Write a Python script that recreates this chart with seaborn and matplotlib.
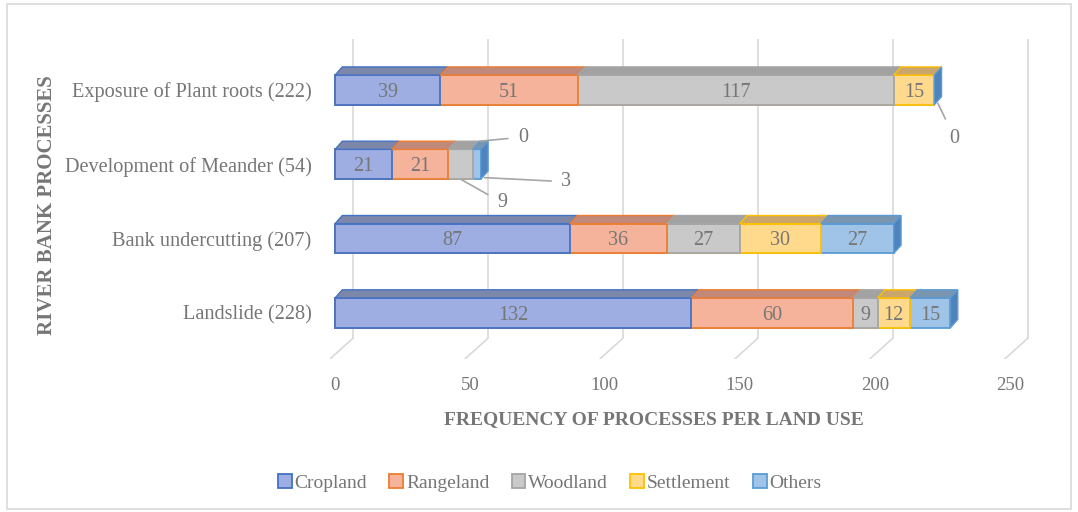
import numpy as np
import pandas as pd
import matplotlib.pyplot as plt
import matplotlib.patches as mpatches
from matplotlib.transforms import ScaledTranslation
import seaborn as sns

# data, top row first
processes = ['Exposure of Plant roots (222)', 'Development of Meander (54)',
             'Bank undercutting (207)', 'Landslide (228)']
land_uses = ['Cropland', 'Rangeland', 'Woodland', 'Settlement', 'Others']
cropland = [39, 21, 87, 132]
rangeland = [51, 21, 36, 60]
woodland = [117, 9, 27, 9]
settlement = [15, 0, 30, 12]
others = [0, 3, 27, 15]
x_ticks = [0, 50, 100, 150, 200, 250]

front = {'Cropland': '#9eaee2', 'Rangeland': '#f6b39c', 'Woodland': '#c9c9c9',
         'Settlement': '#ffd98c', 'Others': '#9fc4e8'}
edge = {'Cropland': '#4472c4', 'Rangeland': '#ed7d31', 'Woodland': '#a5a5a5',
        'Settlement': '#ffc000', 'Others': '#5b9bd5'}
top = {'Cropland': '#7c87aa', 'Rangeland': '#c0897a', 'Woodland': '#a2a2a2',
       'Settlement': '#caa66c', 'Others': '#7a95b0'}
side_col = '#4f83bd'
grey = '#767676'

# labels that Excel pushed outside the bar (offset in points)
outside = {(1, 'Woodland'): (30, -17), (1, 'Settlement'): (31, 3),
           (1, 'Others'): (59, -3), (0, 'Others'): (12, -25)}

df = pd.DataFrame({'Process': processes, 'Cropland': cropland, 'Rangeland': rangeland,
                   'Woodland': woodland, 'Settlement': settlement, 'Others': others})
vals = df[land_uses].to_numpy(dtype=float)
cum = np.cumsum(vals, axis=1)
starts = cum - vals

sns.set_style('white')
plt.rcParams['font.family'] = ['Liberation Serif', 'DejaVu Serif']

fig = plt.figure(figsize=(10.78, 5.12), dpi=100)
ax = fig.add_axes([0.3058, 0.299, 0.656, 0.624])

h = 0.4           # bar thickness
dx, dy = 2.7, 0.11  # fake depth
gback, gfront = 6.7, -1.85
floor_b, floor_f = 3.34, 3.62

# back wall grid + floor
for v in x_ticks:
    ax.plot([v + gback, v + gback], [-0.68, floor_b], color='#d9d9d9', lw=1.2, zorder=0)
    ax.plot([v + gback, v + gfront], [floor_b, floor_f], color='#d9d9d9', lw=1.2, zorder=0)

# stacked bars drawn as overlapping cumulative totals
for j in range(len(land_uses) - 1, -1, -1):
    lu = land_uses[j]
    sns.barplot(x=cum[:, j], y=processes, orient='y', color=front[lu], edgecolor=edge[lu],
                linewidth=1.3, width=h, saturation=1, ax=ax, zorder=2)

# top faces and right side
for i in range(len(processes)):
    yt = i - h / 2
    for j, lu in enumerate(land_uses):
        a, b = starts[i, j], cum[i, j]
        if b - a <= 0:
            continue
        ax.fill([a, b, b + dx, a + dx], [yt, yt, yt - dy, yt - dy], facecolor=top[lu],
                edgecolor=edge[lu], lw=1.0, zorder=3)
    t = cum[i, -1]
    ax.fill([t, t + dx, t + dx, t], [yt, yt - dy, i + h / 2 - dy, i + h / 2],
            facecolor=side_col, edgecolor=edge['Others'], lw=1.0, zorder=3)

# data labels
for i in range(len(processes)):
    for j, lu in enumerate(land_uses):
        v = vals[i, j]
        if (i, lu) in outside:
            if lu == 'Settlement':
                xy = (cum[i, j] + dx, i - h / 2 - dy)
            elif lu == 'Others':
                xy = (cum[i, j] + dx / 2, i + h / 2 - 0.02)
            else:
                xy = ((starts[i, j] + cum[i, j]) / 2, i + h / 2)
            ax.annotate(f'{int(v)}', xy=xy, xytext=outside[(i, lu)], textcoords='offset points',
                        ha='center', va='center', fontsize=14.5, color=grey,
                        arrowprops=dict(arrowstyle='-', color='#a6a6a6', lw=1.2,
                                        shrinkA=5, shrinkB=0), zorder=4)
        elif v > 0:
            ax.text((starts[i, j] + cum[i, j]) / 2, i + 0.03, f'{int(v)}', ha='center',
                    va='center', fontsize=14.5, color=grey, zorder=4)

ax.set_xlim(-2, 260)
ax.set_ylim(floor_f, -0.68)
ax.set_xticks(x_ticks)
ax.set_xticklabels([str(v) for v in x_ticks])
shift = ScaledTranslation(-5 / 100, 0, fig.dpi_scale_trans)
for lbl in ax.get_xticklabels():
    lbl.set_transform(lbl.get_transform() + shift)
ax.tick_params(axis='x', length=0, pad=13, labelsize=13.5, labelcolor=grey)
ax.tick_params(axis='y', length=0, pad=13, labelsize=14.6, labelcolor=grey)
for s in ax.spines.values():
    s.set_visible(False)

ax.set_xlabel('FREQUENCY OF PROCESSES PER LAND USE', fontsize=14, fontweight='bold',
              color=grey)
ax.xaxis.set_label_coords(0.459, -0.163)
ax.set_ylabel('RIVER BANK PROCESSES', fontsize=15, fontweight='bold', color=grey)
ax.yaxis.set_label_coords(-0.386, 0.482)

handles = [mpatches.Patch(facecolor=front[lu], edgecolor=edge[lu], lw=1.3, label=lu)
           for lu in land_uses]
leg = fig.legend(handles=handles, loc='center', bbox_to_anchor=(0.51, 0.057), ncol=5,
                 frameon=False, fontsize=14, handlelength=0.7, handleheight=0.7,
                 handletextpad=0.15, columnspacing=1.15)
for t in leg.get_texts():
    t.set_color(grey)

fig.patches.append(mpatches.Rectangle((7 / 1078, 3 / 512), 1064 / 1078, 505 / 512,
                                      transform=fig.transFigure, fill=False,
                                      edgecolor='#d9d9d9', lw=1.2))

fig.savefig('out.png', dpi=100)
